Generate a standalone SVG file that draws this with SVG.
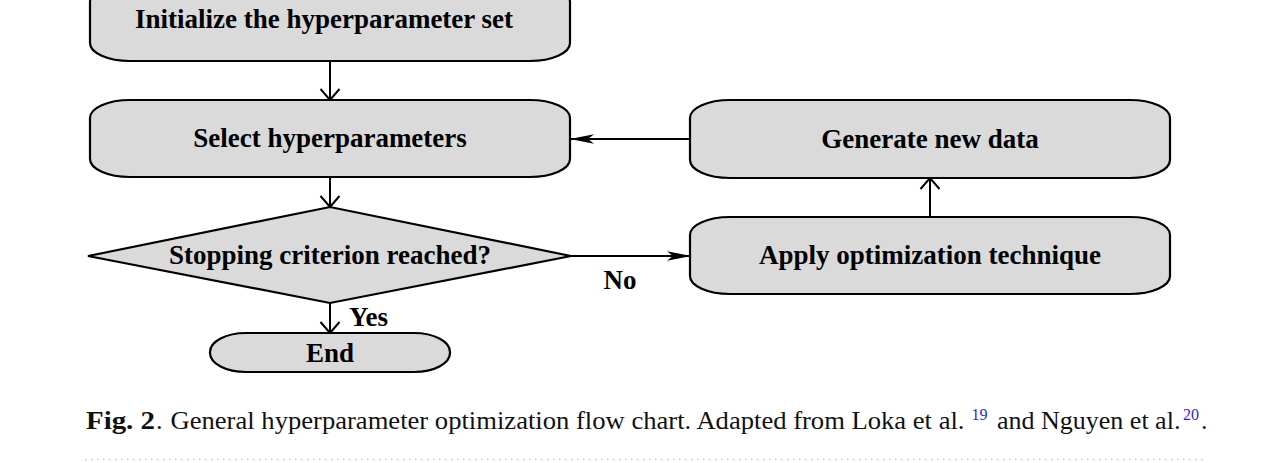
<svg xmlns="http://www.w3.org/2000/svg" width="1261" height="463" viewBox="0 0 1261 463">
<style>
.box{fill:#dadada;stroke:#000;stroke-width:2.2}
.lbl{font-family:"Liberation Serif","Times New Roman",serif;font-weight:bold;font-size:27px;fill:#000;text-anchor:middle}
.edge{stroke:#000;stroke-width:2;fill:none}
.tag{font-family:"Liberation Serif","Times New Roman",serif;font-weight:bold;font-size:27px;fill:#000}
.cap{font-family:"Liberation Serif","Times New Roman",serif;font-size:26px;fill:#111}
.sup{font-family:"Liberation Serif","Times New Roman",serif;font-size:16px;fill:#2a2ad0}
</style>
<defs>
<marker id="vee" viewBox="-13 -11 15 22" refX="0" refY="0" markerWidth="15" markerHeight="22" markerUnits="userSpaceOnUse" orient="auto" overflow="visible">
<path d="M-11,-9.5 L0,0 L-11,9.5" fill="none" stroke="#000" stroke-width="2"/>
</marker>
<marker id="stealth" viewBox="-25 -5 26 10" refX="0" refY="0" markerWidth="26" markerHeight="10" markerUnits="userSpaceOnUse" orient="auto" overflow="visible">
<path d="M1,0 L-23,-4.8 L-17,0 L-23,4.8 Z" fill="#000"/>
</marker>
</defs>
<rect width="1261" height="463" fill="#fff"/>

<g id="connectors">
<line class="edge" x1="330" y1="61" x2="330" y2="100" marker-end="url(#vee)"/>
<line class="edge" x1="330" y1="177" x2="330" y2="207" marker-end="url(#vee)"/>
<line class="edge" x1="330" y1="303" x2="330" y2="333" marker-end="url(#vee)"/>
<line class="edge" x1="571" y1="256" x2="690" y2="256" marker-end="url(#stealth)"/>
<line class="edge" x1="930" y1="217" x2="930" y2="178" marker-end="url(#vee)"/>
<line class="edge" x1="690" y1="139" x2="571" y2="139" marker-end="url(#stealth)"/>
<text class="tag" x="620" y="289" text-anchor="middle">No</text>
<text class="tag" x="349" y="326">Yes</text>
</g>

<g id="init">
<rect class="box" x="90" y="-16" width="480" height="77" rx="40" ry="18"/>
<text class="lbl" x="324" y="28">Initialize the hyperparameter set</text>
</g>
<g id="select">
<rect class="box" x="90" y="100" width="480" height="77" rx="40" ry="18"/>
<text class="lbl" x="330" y="147">Select hyperparameters</text>
</g>
<g id="generate">
<rect class="box" x="690" y="100" width="480" height="78" rx="40" ry="18"/>
<text class="lbl" x="930" y="148">Generate new data</text>
</g>
<g id="stop">
<polygon class="box" points="88,256 330,207 571,256 330,303"/>
<text class="lbl" x="330" y="264">Stopping criterion reached?</text>
</g>
<g id="apply">
<rect class="box" x="690" y="217" width="480" height="77" rx="40" ry="18"/>
<text class="lbl" x="930" y="264">Apply optimization technique</text>
</g>
<g id="end">
<rect class="box" x="210" y="333" width="240" height="39" rx="36" ry="19"/>
<text class="lbl" x="330" y="362">End</text>
</g>

<g id="caption">
<text class="cap" x="86" y="429" font-weight="bold" textLength="69" lengthAdjust="spacingAndGlyphs">Fig. 2</text>
<text class="cap" x="156" y="429">.</text>
<text class="cap" x="170.5" y="429" textLength="794" lengthAdjust="spacingAndGlyphs">General hyperparameter optimization flow chart. Adapted from Loka et al.</text>
<text class="sup" x="971.5" y="420">19</text>
<text class="cap" x="997" y="429">and Nguyen et al.</text>
<text class="sup" x="1183" y="420">20</text>
<text class="cap" x="1201" y="429">.</text>
</g>
<line x1="85" y1="459.5" x2="1207" y2="459.5" stroke="#c8c8c8" stroke-width="1.5" stroke-dasharray="1.5 4.5"/>
</svg>
